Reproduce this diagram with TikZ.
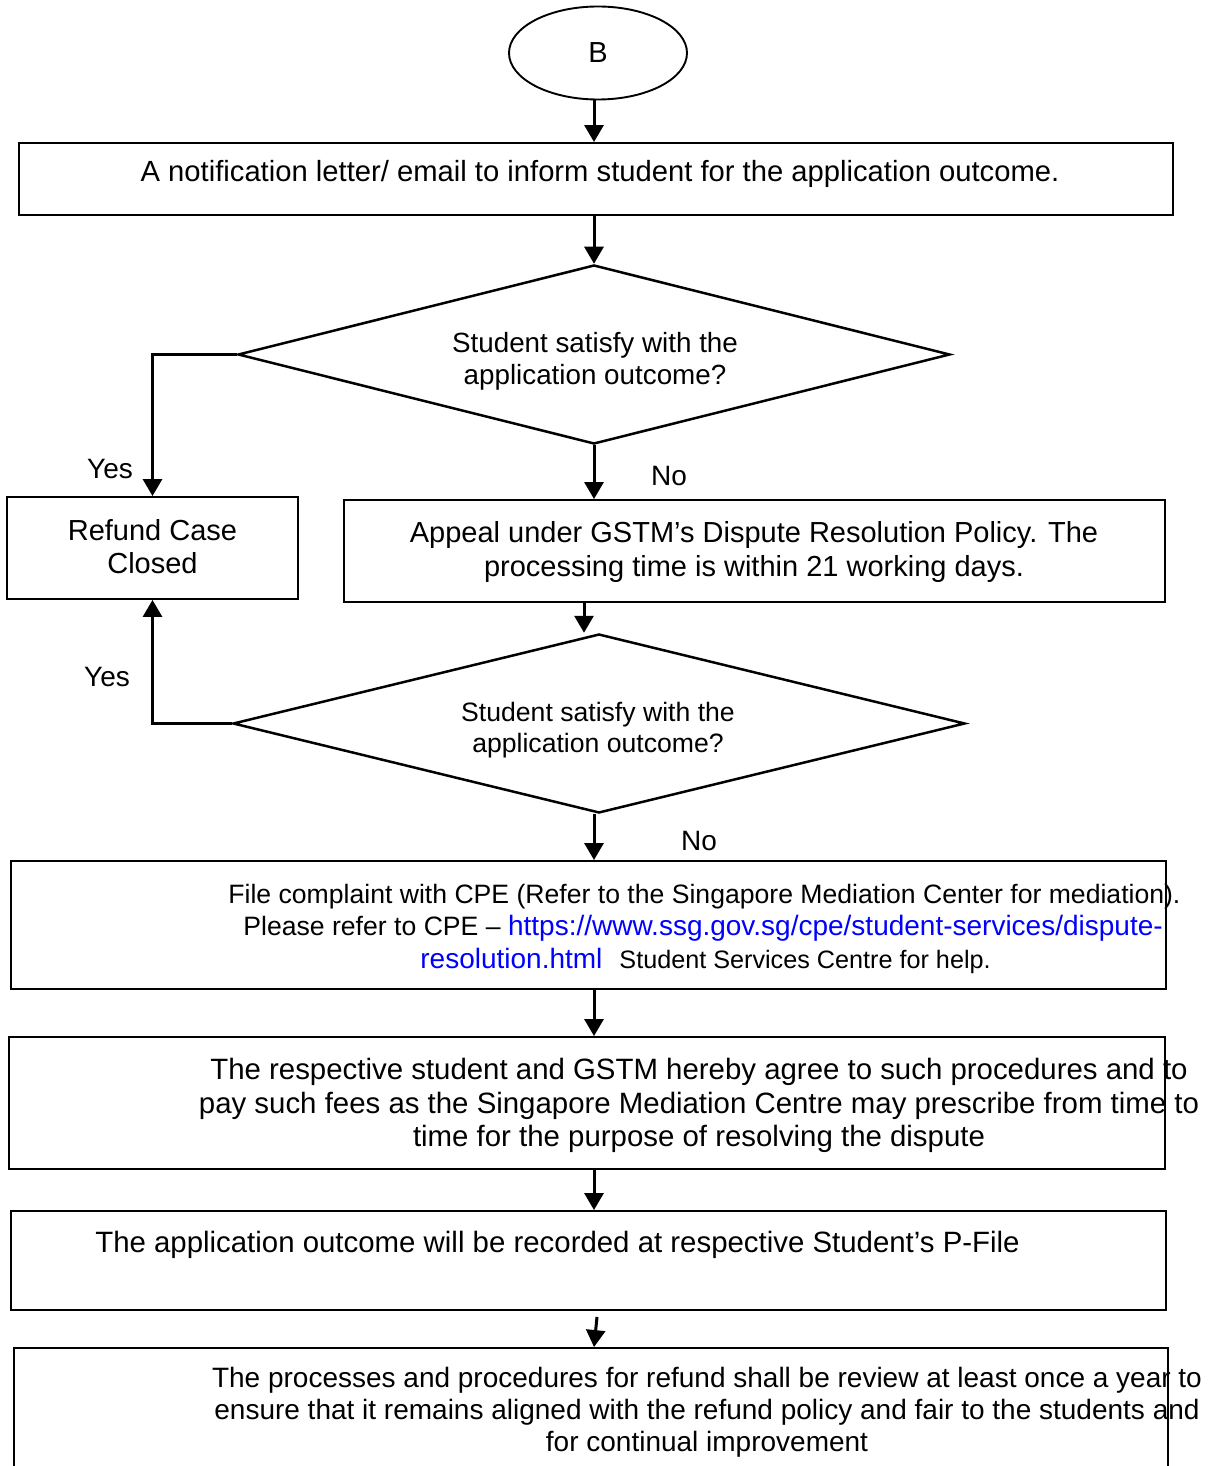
\documentclass[tikz,border=0pt]{standalone}
\usepackage{fontspec}
\setmainfont{Liberation Sans}
\usetikzlibrary{arrows.meta,shapes.geometric,fit,calc}
\definecolor{linkblue}{RGB}{0,0,255}
\begin{document}
\begin{tikzpicture}[x=0.5pt,y=-0.5pt,
  box/.style={draw, line width=0.95pt, inner sep=0pt},
  term/.style={draw, ellipse, line width=0.95pt, inner sep=0pt,
    minimum width=89pt, minimum height=46.5pt, font=\fontsize{14.5}{17}\selectfont},
  decision/.style={draw, diamond, line width=1.25pt, inner sep=0pt},
  flow/.style={-{Triangle[width=9.5pt,length=8.5pt]}, line width=1.5pt},
  txt/.style={inner sep=0pt, anchor=base, font=\fontsize{14.5}{17}\selectfont},
  lefttxt/.style={inner sep=0pt, anchor=base west},
]
\useasboundingbox (0,0) rectangle (1210,1466);
\clip (0,0) rectangle (1210,1466);

% main spine of the flow
\coordinate (spine) at (594,0);
\coordinate (side) at (584,0);

% shapes
\node[term] (B) at (598,53) {B};
\node[box, fit={(19,143) (1173,215)}] (notify) {};
\node[decision, minimum width=356pt, minimum height=89.5pt] (d1) at (594,354.5) {};
\node[box, fit={(7,497) (298,599)}] (closed) {};
\node[box, fit={(344,500) (1165,602)}] (appeal) {};
\node[decision, minimum width=366pt, minimum height=89.5pt] (d2) at (599,723.5) {};
\node[box, fit={(11,861) (1166,989)}] (cpe) {};
\node[box, fit={(9,1037) (1165,1169)}] (agree) {};
\node[box, fit={(11,1211) (1166,1310)}] (pfile) {};
\node[box, fit={(14,1348) (1168,1500)}] (review) {};

% texts
\node[txt, font=\fontsize{14.6}{17}\selectfont] (t1) at (600,182) {A notification letter/ email to inform student for the application outcome.};
\node[txt, font=\fontsize{13.9}{16}\selectfont] (d1a) at (595,352) {Student satisfy with the};
\node[txt, font=\fontsize{13.9}{16}\selectfont] (d1b) at (595,384) {application outcome?};
\node[txt, font=\fontsize{14}{17}\selectfont] (yes1) at (110,478) {Yes};
\node[txt, font=\fontsize{14}{17}\selectfont] (no1) at (669,485) {No};
\node[txt] (c1) at (152.5,540) {Refund Case};
\node[txt] (c2) at (152.5,573) {Closed};
\node[txt] (a1) at (754,542) {Appeal under GSTM’s Dispute Resolution Policy. The};
\node[txt] (a2) at (754,576) {processing time is within 21 working days.};
\node[txt, font=\fontsize{13.3}{16}\selectfont] (d2a) at (598,721) {Student satisfy with the};
\node[txt, font=\fontsize{13.3}{16}\selectfont] (d2b) at (598,752) {application outcome?};
\node[txt, font=\fontsize{14}{17}\selectfont] (yes2) at (107,686) {Yes};
\node[txt, font=\fontsize{14}{17}\selectfont] (no2) at (699,850) {No};

\node[lefttxt, font=\fontsize{13.3}{16}\selectfont] (f1) at (228,903)
  {File complaint with CPE (Refer to the Singapore Mediation Center for mediation).};
\node[lefttxt] (f2) at (243,935)
  {{\fontsize{13.3}{16}\selectfont Please refer to CPE \textendash\ }{\color{linkblue}\fontsize{14}{17}\selectfont https://www.ssg.gov.sg/cpe/student-services/dispute-}};
\node[lefttxt] (f3) at (420,968)
  {{\color{linkblue}\fontsize{14}{17}\selectfont resolution.html}\hspace{8.5pt}{\fontsize{12.6}{15}\selectfont Student Services Centre for help.}};

\node[txt, font=\fontsize{14.7}{17}\selectfont] (g1) at (699,1079) {The respective student and GSTM hereby agree to such procedures and to};
\node[txt, font=\fontsize{14.7}{17}\selectfont] (g2) at (699,1113) {pay such fees as the Singapore Mediation Centre may prescribe from time to};
\node[txt, font=\fontsize{14.7}{17}\selectfont] (g3) at (699,1146) {time for the purpose of resolving the dispute};

\node[txt, font=\fontsize{14.7}{17}\selectfont] (p1) at (557.5,1252) {The application outcome will be recorded at respective Student’s P-File};

\node[txt, font=\fontsize{14}{16}\selectfont] (r1) at (707,1387) {The processes and procedures for refund shall be review at least once a year to};
\node[txt, font=\fontsize{14}{16}\selectfont] (r2) at (707,1419) {ensure that it remains aligned with the refund policy and fair to the students and};
\node[txt, font=\fontsize{14}{16}\selectfont] (r3) at (707,1451) {for continual improvement};

% connectors
\draw[flow] (B.south -| spine) -- (notify.north -| spine);
\draw[flow] (notify.south -| d1.north) -- (d1.north);
\draw[flow] (d1.west) -- (d1.west -| closed.north) -- (closed.north);
\draw[flow] (d1.south) -- (d1.south |- appeal.north);
\draw[flow] (appeal.south -| side) -- (d2.north -| side);
\draw[flow] (d2.west) -- (d2.west -| closed.south) -- (closed.south);
\draw[flow] (d2.south -| spine) -- (cpe.north -| spine);
\draw[flow] (cpe.south -| spine) -- (agree.north -| spine);
\draw[flow] (agree.south -| spine) -- (pfile.north -| spine);
\draw[flow] ($(pfile.south -| spine)+(3,6)$) -- (review.north -| spine);
\end{tikzpicture}
\end{document}
